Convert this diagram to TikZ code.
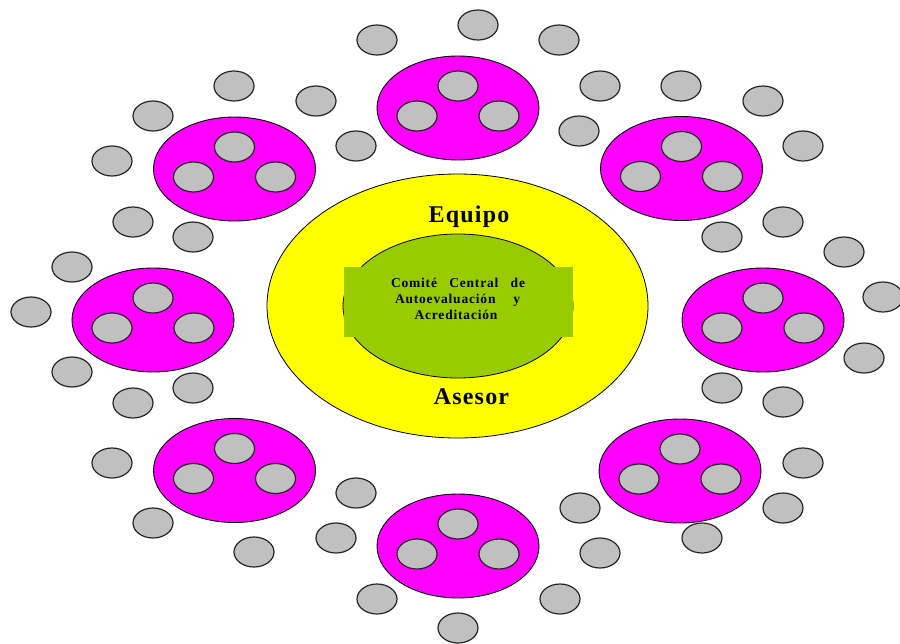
\documentclass[tikz,border=0pt]{standalone}
\usepackage{fontspec}
\setmainfont{Liberation Serif}
\newfontfamily\bigspaced[LetterSpace=5]{Liberation Serif}
\newfontfamily\smallspaced[LetterSpace=6]{Liberation Serif}
\usetikzlibrary{shapes.geometric,calc}
\definecolor{mag}{HTML}{FF00FF}
\definecolor{gry}{HTML}{C0C0C0}
\definecolor{yel}{HTML}{FFFF00}
\definecolor{grn}{HTML}{99CC00}
\begin{document}
\begin{tikzpicture}[x=1pt,y=-1pt,
  member/.style={ellipse,draw=black!85,fill=gry,line width=1.2pt,minimum width=40pt,minimum height=30pt,inner sep=0pt,outer sep=0pt},
  grp/.style={ellipse,draw=black,fill=mag,line width=0.9pt,minimum width=162pt,minimum height=104pt,inner sep=0pt,outer sep=0pt},
  bigtxt/.style={anchor=base,inner sep=0pt,font=\bigspaced\bfseries\fontsize{24}{24}\selectfont},
  smalltxt/.style={anchor=base,inner sep=0pt,font=\smallspaced\bfseries\fontsize{13.5}{13.5}\selectfont}]
\useasboundingbox (0,0) rectangle (900,643);
% central rings
\node[ellipse,draw=black,fill=yel,line width=0.8pt,minimum width=381pt,minimum height=264pt,inner sep=0pt] (equipo) at (457.5,306) {};
\node[ellipse,draw=black,fill=grn,line width=0.8pt,minimum width=230pt,minimum height=144pt,inner sep=0pt] (comite) at (458,306) {};
\node[rectangle,fill=grn,minimum width=229pt,minimum height=70pt,inner sep=0pt] (band) at (458.5,302) {};
\node[bigtxt] (teq) at (469,222) {Equipo};
\node[bigtxt] (tas) at (471.5,404) {Asesor};
\node[smalltxt] (l1) at (458,287) {\makebox[134pt][s]{Comité Central de}};
\node[smalltxt] (l2) at (457.5,303) {\makebox[125pt][s]{Autoevaluación y}};
\node[smalltxt] (l3) at (456,319) {Acreditación};
% groups with three members each
\foreach \gx/\gy [count=\i] in {458/108, 234.5/169, 681.5/168.5, 153/320, 763/320, 234.5/470.5, 680/471, 458/546}{
  \node[grp] (g\i) at (\gx,\gy) {};
  \node[member] (g\i a) at ($(g\i)+(0,-22)$) {};
  \node[member] (g\i b) at ($(g\i)+(-41,8)$) {};
  \node[member] (g\i c) at ($(g\i)+(41,8)$) {};
}
% outer members
\foreach \mx/\my [count=\j] in {478/25, 377/40, 559/40,
  234/86, 316/101, 153/116, 356/146, 112/161, 133/222, 193/237,
  600/86, 681/86, 763/101, 579/131, 803/146, 722/237, 783/222, 844/252,
  72/267, 31/312, 72/372, 193/388, 133/403,
  883/297, 864/358, 722/388, 783/402,
  112/463, 153/523, 356/493, 336/538, 254/552,
  803/463, 783/508, 702/538, 580/508, 600/553,
  377/599, 458/628, 560/599}{
  \node[member] (m\j) at (\mx,\my) {};
}
\end{tikzpicture}
\end{document}
